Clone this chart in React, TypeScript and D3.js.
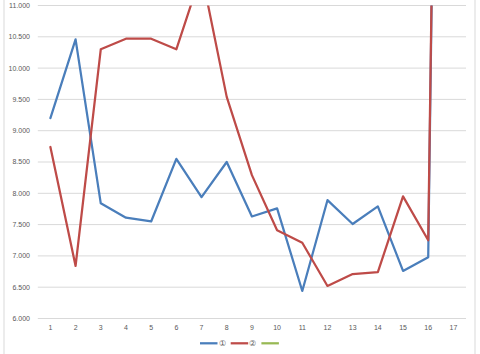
import React from 'react';
import * as d3 from 'd3';

const categories = ['1', '2', '3', '4', '5', '6', '7', '8', '9', '10', '11', '12', '13', '14', '15', '16', '17'];
const series1 = [9200, 10460, 7840, 7610, 7550, 8550, 7940, 8500, 7630, 7760, 6440, 7890, 7510, 7790, 6760, 6980, 37000];
const series2 = [8740, 6840, 10300, 10470, 10470, 10300, 11520, 9540, 8290, 7410, 7210, 6520, 6710, 6740, 7950, 7250, 36500];
const yTicks = [6000, 6500, 7000, 7500, 8000, 8500, 9000, 9500, 10000, 10500, 11000];
const legendNames = ['①', '②', ''];
const colors = ['#4A7EBB', '#BE4B48', '#98B954'];

const W = 480;
const H = 354;

const App: React.FC = () => {
  const x = d3.scaleBand<string>().domain(categories).range([37.8, 466]);
  const y = d3.scaleLinear().domain([6000, 11000]).range([318.5, 5.5]);
  const cx = (c: string) => (x(c) as number) + x.bandwidth() / 2;
  const fmt = (v: number) => d3.format(',.0f')(v).replace(/,/g, '.');

  const line = d3.line<number>()
    .x((_, i) => cx(categories[i]))
    .y(d => y(d));

  const allSeries = [series1, series2];

  return (
    <svg width={W} height={H} style={{ position: 'absolute', left: 0, top: 0, background: '#fff' }}
      fontFamily="'Liberation Sans', Arial, sans-serif">
      <defs>
        <clipPath id="plot">
          <rect x={37.8} y={5.5} width={466 - 37.8} height={318.5 - 5.5} />
        </clipPath>
      </defs>
      <rect x={0} y={0} width={W} height={H} fill="#fff" />
      <line x1={4} x2={4} y1={0} y2={H} stroke="#d9d9d9" />
      <line x1={475} x2={475} y1={0} y2={H} stroke="#d9d9d9" />

      {yTicks.map(t => (
        <g key={t}>
          <line x1={37.8} x2={466} y1={y(t)} y2={y(t)} stroke="#d9d9d9" strokeWidth={1} />
          <text x={30} y={y(t)} dy="0.35em" textAnchor="end" fontSize={7} fill="#595959">{fmt(t)}</text>
        </g>
      ))}

      {categories.map(c => (
        <text key={c} x={cx(c)} y={327.5} dy="0.35em" textAnchor="middle" fontSize={7} fill="#595959">{c}</text>
      ))}

      <g clipPath="url(#plot)">
        {allSeries.map((s, i) => (
          <path key={i} d={line(s) as string} fill="none" stroke={colors[i]} strokeWidth={2.25}
            strokeLinejoin="round" strokeLinecap="round" />
        ))}
      </g>

      {legendNames.map((name, i) => {
        const lx = 200 + i * 30.7;
        return (
          <g key={i}>
            <line x1={lx} x2={lx + 17.5} y1={343.3} y2={343.3} stroke={colors[i]} strokeWidth={2.25} />
            {name && (
              <text x={lx + 18.5} y={343.3} dy="0.35em" fontSize={8} fill="#595959">{name}</text>
            )}
          </g>
        );
      })}
    </svg>
  );
};

export default App;
